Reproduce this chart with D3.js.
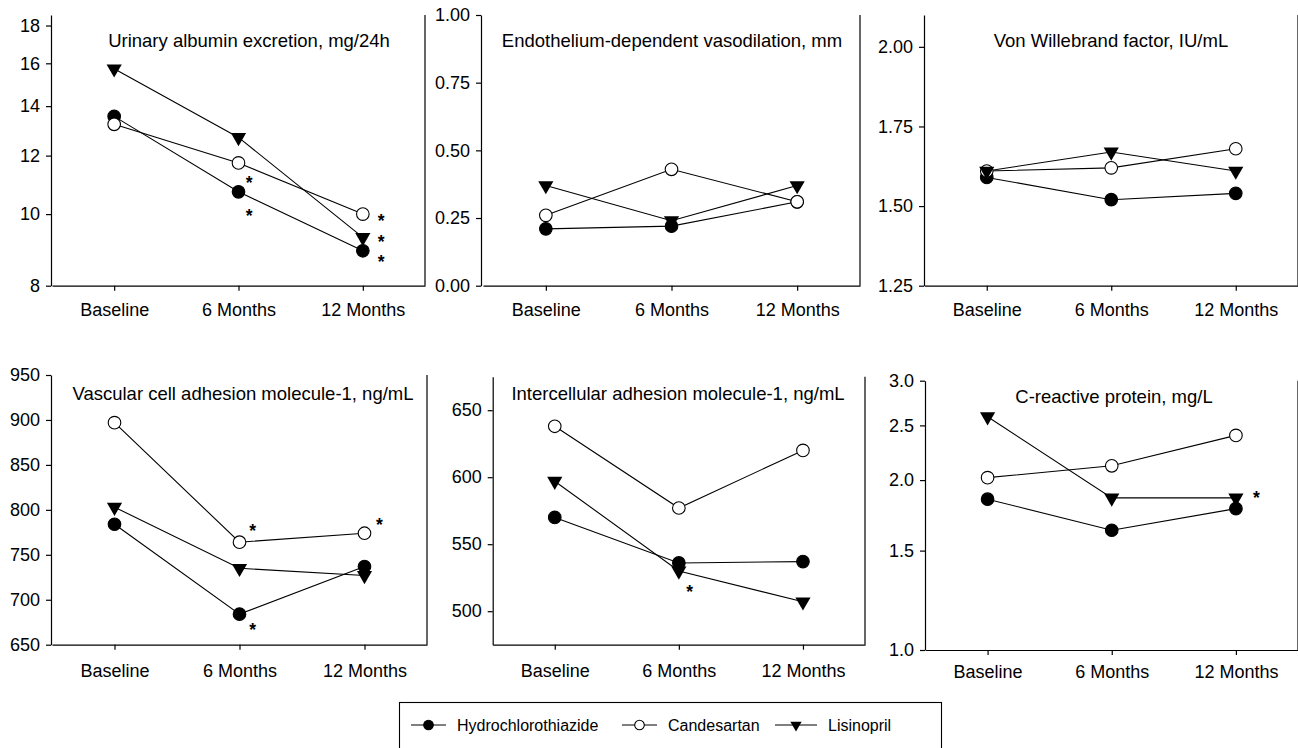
<!DOCTYPE html>
<html>
<head>
<meta charset="utf-8">
<script src="https://cdn.jsdelivr.net/npm/d3@7"></script>
<style>
  body { margin: 0; background: #fff; }
  svg { display: block; font-family: "Liberation Sans", Arial, sans-serif; }
  .axis path, .axis line { stroke: #000; stroke-width: 1.2; }
  .axis text { font-size: 18px; fill: #000; font-family: "Liberation Sans", Arial, sans-serif; }
  .title { font-size: 18.5px; fill: #000; }
  .star { font-size: 17.5px; font-weight: bold; fill: #000; }
  .legend text { font-size: 16px; fill: #000; }
</style>
</head>
<body>
<svg id="chart" width="1298" height="748"></svg>
<script>
var categories = ["Baseline", "6 Months", "12 Months"];
var seriesNames = ["Hydrochlorothiazide", "Candesartan", "Lisinopril"];

// urinary albumin excretion
var uaeHctz = [13.56, 10.72, 8.92];
var uaeCand = [13.23, 11.73, 10.0];
var uaeLis = [15.73, 12.7, 9.3];
var uaeStars = [[1.085, 11.17], [1.085, 10.05], [2.148, 9.92], [2.148, 9.28], [2.148, 8.71]];
var uaeTicks = [8, 10, 12, 14, 16, 18];

// endothelium-dependent vasodilation
var edvHctz = [0.21, 0.22, 0.31];
var edvCand = [0.26, 0.43, 0.31];
var edvLis = [0.37, 0.24, 0.37];
var edvTicks = [0, 0.25, 0.5, 0.75, 1.0];

// von willebrand factor
var vwfHctz = [1.59, 1.52, 1.54];
var vwfCand = [1.61, 1.62, 1.68];
var vwfLis = [1.61, 1.67, 1.61];
var vwfTicks = [1.25, 1.5, 1.75, 2.0];

// VCAM-1
var vcamHctz = [784, 684, 737];
var vcamCand = [897, 764, 774];
var vcamLis = [803, 735, 727];
var vcamStars = [[1.106, 781], [1.106, 671], [2.12, 788]];
var vcamTicks = [650, 700, 750, 800, 850, 900, 950];

// ICAM-1
var icamHctz = [570, 536, 537];
var icamCand = [638, 577, 620];
var icamLis = [597, 530, 507];
var icamStars = [[1.088, 517]];
var icamTicks = [500, 550, 600, 650];

// C-reactive protein
var crpHctz = [1.85, 1.63, 1.78];
var crpCand = [2.02, 2.12, 2.40];
var crpLis = [2.59, 1.86, 1.86];
var crpStars = [[2.166, 1.89]];
var crpTicks = [1.0, 1.5, 2.0, 2.5, 3.0];

var panels = [
  {title: "Urinary albumin excretion, mg/24h", series: [uaeHctz, uaeCand, uaeLis], stars: uaeStars, ticks: uaeTicks, domain: [8, 18.6], log: true, fmt: "d"},
  {title: "Endothelium-dependent vasodilation, mm", series: [edvHctz, edvCand, edvLis], stars: [], ticks: edvTicks, domain: [0, 1], log: false, fmt: ".2f"},
  {title: "Von Willebrand factor, IU/mL", series: [vwfHctz, vwfCand, vwfLis], stars: [], ticks: vwfTicks, domain: [1.25, 2.1], log: false, fmt: ".2f"},
  {title: "Vascular cell adhesion molecule-1, ng/mL", series: [vcamHctz, vcamCand, vcamLis], stars: vcamStars, ticks: vcamTicks, domain: [650, 950], log: false, fmt: "d"},
  {title: "Intercellular adhesion molecule-1, ng/mL", series: [icamHctz, icamCand, icamLis], stars: icamStars, ticks: icamTicks, domain: [475, 675], log: false, fmt: "d"},
  {title: "C-reactive protein, mg/L", series: [crpHctz, crpCand, crpLis], stars: crpStars, ticks: crpTicks, domain: [1, 3], log: true, fmt: ".1f"}
];

// pixel layout of each panel
var layout = [
  {ax: 51, x0: 52, x1: 425, top: 15, bottom: 285.7, titleX: 249, titleY: 47, pad: 13},
  {ax: 481, x0: 483, x1: 860, top: 15, bottom: 285.7, titleX: 672, titleY: 47, pad: 13},
  {ax: 924, x0: 924.5, x1: 1298, top: 15, bottom: 285.7, titleX: 1111, titleY: 47, pad: 13},
  {ax: 51, x0: 52, x1: 427, top: 375, bottom: 644.7, titleX: 243, titleY: 400, pad: 15},
  {ax: 492.7, x0: 492.7, x1: 865, top: 376.7, bottom: 644.7, titleX: 678, titleY: 400, pad: 15},
  {ax: 925, x0: 925.5, x1: 1298, top: 380.7, bottom: 650, titleX: 1114, titleY: 403, pad: 10}
];

var svg = d3.select("#chart");

var triangle = d3.symbol().type(d3.symbolTriangle).size(100);
var triangleSmall = d3.symbol().type(d3.symbolTriangle).size(55);

function drawMarker(g, kind, cx, cy, big) {
  if (kind == 2) {
    g.append("path")
      .attr("d", big ? triangle() : triangleSmall())
      .attr("transform", "translate(" + cx + "," + cy + ") rotate(180)")
      .attr("fill", "#000");
  } else {
    g.append("circle")
      .attr("cx", cx)
      .attr("cy", cy)
      .attr("r", big ? 6.3 : 4.8)
      .attr("fill", kind == 0 ? "#000" : "#fff")
      .attr("stroke", "#000")
      .attr("stroke-width", 1.1);
  }
}

panels.forEach(function(p, i) {
  var L = layout[i];
  var g = svg.append("g");

  var x = d3.scaleLinear().domain([-0.5, 2.5]).range([L.x0, L.x1]);
  var y = (p.log ? d3.scaleLog() : d3.scaleLinear()).domain(p.domain).range([L.bottom, L.top]);

  g.append("g")
    .attr("class", "axis")
    .attr("transform", "translate(0," + L.bottom + ")")
    .call(d3.axisBottom(x).tickValues([0, 1, 2])
      .tickFormat(function(d) { return categories[d]; })
      .tickSize(5).tickSizeOuter(0).tickPadding(L.pad));

  g.append("g")
    .attr("class", "axis")
    .attr("transform", "translate(" + L.ax + ",0)")
    .call(d3.axisLeft(y).tickValues(p.ticks)
      .tickFormat(d3.format(p.fmt))
      .tickSize(5).tickSizeOuter(0).tickPadding(6));

  // right frame line
  g.append("line")
    .attr("x1", L.x1).attr("x2", L.x1)
    .attr("y1", L.top).attr("y2", L.bottom)
    .attr("stroke", "#000").attr("stroke-width", 1.2);

  g.append("text")
    .attr("class", "title")
    .attr("x", L.titleX)
    .attr("y", L.titleY)
    .attr("text-anchor", "middle")
    .text(p.title);

  var line = d3.line()
    .x(function(d, j) { return x(j); })
    .y(function(d) { return y(d); });

  p.series.forEach(function(s) {
    g.append("path")
      .datum(s)
      .attr("d", line)
      .attr("fill", "none")
      .attr("stroke", "#000")
      .attr("stroke-width", 1.1);
  });

  p.series.forEach(function(s, k) {
    s.forEach(function(v, j) {
      drawMarker(g, k, x(j), y(v), true);
    });
  });

  p.stars.forEach(function(st) {
    g.append("text")
      .attr("class", "star")
      .attr("x", x(st[0]))
      .attr("y", y(st[1]))
      .attr("dy", "0.57em")
      .attr("text-anchor", "middle")
      .text("*");
  });
});

// legend
var legend = svg.append("g").attr("class", "legend");
legend.append("rect")
  .attr("x", 399.5).attr("y", 702.5)
  .attr("width", 542).attr("height", 70)
  .attr("fill", "none").attr("stroke", "#000").attr("stroke-width", 1.1);

var legendX = [411, 622, 775];
var legendW = [35, 35, 42];
seriesNames.forEach(function(name, k) {
  var lx = legendX[k];
  var ly = 725;
  legend.append("line")
    .attr("x1", lx).attr("x2", lx + legendW[k])
    .attr("y1", ly).attr("y2", ly)
    .attr("stroke", "#000").attr("stroke-width", 1.1);
  drawMarker(legend, k, lx + legendW[k] / 2, ly, false);
  legend.append("text")
    .attr("x", lx + legendW[k] + 11)
    .attr("y", ly + 5.5)
    .text(name);
});
</script>
</body>
</html>
